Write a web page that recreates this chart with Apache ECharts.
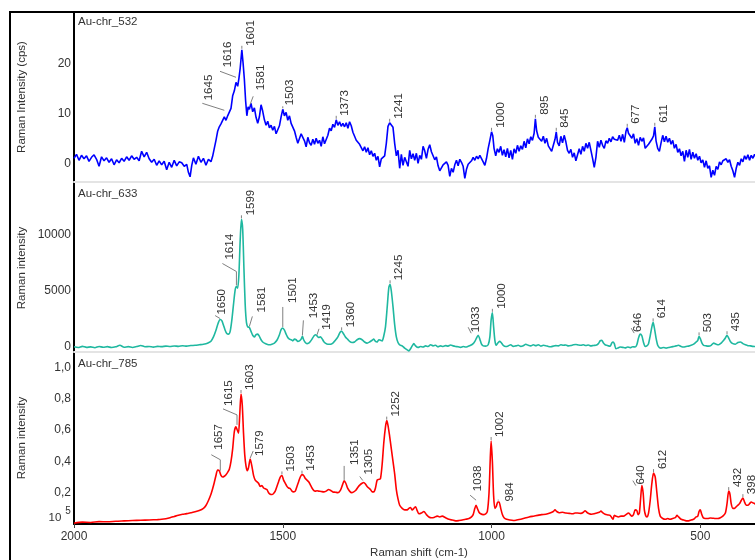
<!DOCTYPE html>
<html><head><meta charset="utf-8">
<script src="https://cdn.jsdelivr.net/npm/echarts@6/dist/echarts.min.js"></script>
<style>html,body{margin:0;padding:0;background:#fff}#c{width:755px;height:560px}</style>
</head><body><div id="c"></div>
<script>
// ---------- DATA ----------
const xTicks = [500, 1000, 1500, 2000];
const xRange = [369, 2000];
const yTicks532 = [0, 10, 20];
const yTicks633 = [0, 5000, 10000];
const yTicks785 = [0.2, 0.4, 0.6, 0.8, 1.0];
const seriesNames = ["Au-chr_532", "Au-chr_633", "Au-chr_785"];

const spec532 = [
[2000,1.0],[1994,1.8],[1988,0.6],[1982,1.6],[1976,0.9],[1970,1.5],[1964,0.4],[1958,1.2],[1952,1.7],[1946,0.8],
[1940,-0.6],[1934,1.3],[1928,0.5],[1922,1.1],[1916,0.2],[1910,0.9],[1904,-0.3],[1898,0.7],[1892,0.1],[1886,1.0],
[1880,0.4],[1874,1.3],[1868,0.6],[1862,1.5],[1856,0.8],[1850,1.2],[1844,0.5],[1838,2.4],[1832,1.3],[1826,2.2],
[1820,0.9],[1814,0.2],[1808,0.8],[1802,-0.4],[1796,0.5],[1790,-0.3],[1784,0.4],[1778,-1.3],[1772,0.2],[1766,-0.8],
[1760,0.6],[1754,-0.5],[1748,0.3],[1742,0.1],[1736,-0.6],[1730,-0.2],[1726,-1.8],[1722,-2.7],[1718,-0.4],[1714,1.1],
[1708,-0.2],[1702,1.4],[1696,0.2],[1690,1.0],[1684,-0.4],[1678,0.8],[1672,0.3],[1668,1.4],[1664,3.0],[1660,4.6],
[1656,6.4],[1652,7.3],[1648,7.9],[1644,8.6],[1640,9.3],[1636,8.6],[1632,9.5],[1628,9.2],[1624,11.0],[1620,13.5],
[1616,14.5],[1612,16.2],[1608,15.4],[1605,17.0],[1602,19.0],[1598,22.7],[1595,20.0],[1592,16.8],[1589,12.5],[1586,9.5],
[1583,11.3],[1580,10.8],[1576,12.0],[1572,10.3],[1568,11.1],[1564,9.2],[1560,8.0],[1556,9.3],[1552,11.7],[1548,10.4],
[1544,8.7],[1540,7.6],[1536,8.4],[1532,7.1],[1528,7.6],[1524,6.6],[1520,7.4],[1516,5.9],[1512,5.7],[1508,7.5],
[1504,9.3],[1500,10.8],[1496,9.5],[1492,10.2],[1488,8.6],[1484,9.5],[1480,8.0],[1476,7.7],[1472,6.5],[1468,5.2],
[1464,4.0],[1460,3.7],[1456,5.9],[1452,6.3],[1448,4.5],[1444,3.3],[1440,5.2],[1436,4.1],[1432,3.6],[1428,4.8],
[1424,3.8],[1420,5.0],[1416,4.0],[1412,4.6],[1408,3.4],[1404,5.3],[1400,3.9],[1396,3.5],[1392,5.6],[1388,7.0],
[1384,6.5],[1380,7.8],[1376,7.2],[1372,8.7],[1368,7.6],[1364,8.3],[1360,7.4],[1356,8.0],[1352,7.3],[1348,8.1],
[1344,7.0],[1340,8.3],[1336,7.5],[1332,6.2],[1328,5.8],[1324,4.6],[1320,4.9],[1316,3.8],[1312,3.4],[1308,2.5],
[1304,3.3],[1300,2.2],[1296,3.1],[1292,1.7],[1288,2.5],[1284,1.4],[1280,2.0],[1276,0.6],[1272,1.4],[1268,-0.7],
[1264,0.9],[1260,0.5],[1256,1.5],[1252,4.0],[1248,7.4],[1244,8.1],[1240,7.9],[1236,7.2],[1232,4.0],[1228,1.5],
[1224,2.6],[1220,-1.0],[1216,1.8],[1212,-0.4],[1208,1.2],[1204,0.3],[1200,-0.6],[1196,2.6],[1192,0.9],[1188,1.9],
[1184,0.6],[1180,2.0],[1176,0.0],[1172,1.6],[1168,0.8],[1164,3.4],[1160,2.5],[1156,1.0],[1152,2.8],[1148,3.7],
[1144,2.3],[1140,1.5],[1136,0.7],[1132,1.3],[1128,-0.5],[1124,-1.5],[1120,-1.2],[1116,-0.3],[1112,-0.6],[1108,0.3],
[1104,-0.4],[1100,-2.6],[1096,-1.0],[1092,-1.8],[1088,-0.3],[1084,0.6],[1080,-0.5],[1076,0.8],[1072,0.2],[1068,-0.6],
[1064,-3.0],[1060,-1.2],[1056,-0.2],[1052,0.2],[1048,0.5],[1044,1.2],[1040,0.6],[1036,1.4],[1032,0.9],[1028,1.6],
[1024,1.2],[1020,0.3],[1016,-0.4],[1012,1.0],[1008,3.0],[1004,4.6],[1000,6.3],[997,5.5],[994,3.0],[990,1.5],
[986,2.9],[982,2.2],[978,3.4],[974,1.6],[970,2.7],[966,1.3],[962,3.0],[958,1.1],[954,2.6],[950,0.8],
[946,2.9],[942,2.0],[938,3.6],[934,2.4],[930,3.5],[926,2.8],[922,4.4],[918,3.1],[914,4.9],[910,3.9],
[906,5.3],[902,4.6],[898,6.0],[895,8.9],[892,6.5],[888,5.2],[884,5.6],[880,4.4],[876,5.4],[872,4.0],
[868,5.0],[864,3.5],[860,3.9],[856,2.4],[852,3.6],[848,4.8],[845,6.3],[842,4.2],[838,3.5],[834,5.4],
[830,4.1],[826,5.6],[822,4.3],[818,2.6],[814,2.0],[810,2.8],[806,1.2],[802,2.1],[798,0.5],[794,1.7],
[790,2.9],[786,1.8],[782,3.4],[778,2.4],[774,4.0],[770,3.0],[766,4.2],[762,2.6],[758,1.0],[754,-0.8],
[750,1.2],[746,4.4],[742,3.2],[738,4.6],[734,3.6],[730,3.0],[726,4.5],[722,4.0],[718,5.0],[714,4.3],
[710,5.3],[706,4.8],[702,5.2],[698,4.6],[694,5.6],[690,4.4],[686,5.8],[682,4.2],[678,6.4],[675,7.1],
[672,6.0],[668,6.4],[664,5.0],[660,5.9],[656,4.0],[652,4.9],[648,3.6],[644,5.2],[640,4.4],[636,5.1],
[632,3.0],[628,2.6],[624,3.8],[620,4.2],[616,4.8],[612,5.5],[609,7.3],[606,4.5],[602,3.0],[598,2.4],
[594,4.1],[590,5.6],[586,4.3],[582,5.4],[578,4.2],[574,5.0],[570,3.8],[566,4.6],[562,3.0],[558,3.8],
[554,2.2],[550,2.9],[546,1.5],[542,2.4],[538,0.4],[534,2.6],[530,1.2],[526,2.8],[522,0.8],[518,2.2],
[514,1.0],[510,1.9],[506,0.6],[502,1.4],[498,0.1],[494,0.7],[490,-0.8],[486,0.5],[482,-1.0],[478,-0.5],
[474,-2.8],[470,-1.4],[466,-2.4],[462,-0.6],[458,-1.2],[454,0.3],[450,-0.3],[446,0.5],[442,0.1],[438,0.9],
[434,0.2],[430,0.7],[426,-0.6],[422,-1.5],[418,-2.8],[414,-1.0],[410,0.2],[406,-0.4],[402,0.9],[398,0.3],
[394,1.5],[390,0.8],[386,1.7],[382,0.6],[378,1.6],[374,1.0],[370,1.8],[366,1.2],[362,0.8]
];

const spec633 = [
[2000,20],[1990,-40],[1980,60],[1970,-30],[1960,10],[1950,-60],[1940,40],[1930,-20],[1920,30],[1910,-50],
[1900,20],[1890,150],[1880,-20],[1870,30],[1860,-40],[1850,40],[1840,140],[1830,20],[1820,50],[1810,-10],
[1800,60],[1790,30],[1780,80],[1770,40],[1760,90],[1750,60],[1740,110],[1730,80],[1720,130],[1710,150],
[1700,200],[1690,250],[1684,300],[1678,380],[1672,520],[1666,900],[1660,1500],[1655,2100],[1650,2450],[1646,2350],
[1642,1950],[1638,1500],[1634,1200],[1630,1150],[1626,1400],[1622,2400],[1618,3800],[1614,5100],[1611,5400],[1608,5250],
[1605,6500],[1602,9500],[1599,11400],[1596,10500],[1593,7000],[1590,3800],[1587,2200],[1584,1800],[1580,1750],[1576,1400],
[1572,1050],[1568,900],[1564,1100],[1560,1150],[1556,950],[1552,650],[1548,450],[1544,350],[1538,250],[1532,200],
[1526,250],[1520,350],[1514,600],[1508,1100],[1504,1550],[1500,1700],[1496,1500],[1492,1150],[1488,850],[1484,700],
[1480,650],[1476,550],[1472,700],[1468,650],[1464,500],[1460,550],[1456,700],[1453,950],[1450,650],[1446,400],
[1442,300],[1438,350],[1434,500],[1430,700],[1426,950],[1422,1100],[1418,1000],[1414,850],[1410,900],[1406,750],
[1402,500],[1398,350],[1392,250],[1386,250],[1380,350],[1374,600],[1368,900],[1363,1300],[1359,1400],[1355,1200],
[1350,900],[1345,700],[1340,500],[1334,400],[1328,450],[1322,650],[1316,750],[1310,650],[1304,450],[1298,350],
[1292,450],[1286,600],[1282,700],[1278,500],[1274,450],[1270,650],[1266,600],[1262,550],[1258,1000],[1254,1800],
[1250,3500],[1246,5300],[1243,5600],[1240,5000],[1236,3600],[1232,2000],[1228,900],[1224,400],[1220,200],[1214,100],
[1208,-100],[1202,-250],[1198,-350],[1194,-150],[1190,100],[1186,300],[1182,100],[1176,-50],[1170,50],[1164,0],
[1158,100],[1152,50],[1146,200],[1140,100],[1134,150],[1128,20],[1122,100],[1116,50],[1110,120],[1104,80],
[1098,180],[1092,100],[1086,50],[1080,20],[1074,-30],[1068,40],[1062,0],[1056,60],[1050,150],[1044,300],
[1040,500],[1036,800],[1032,1050],[1028,700],[1024,250],[1020,100],[1014,80],[1008,200],[1004,900],[1001,2400],
[998,3050],[995,1800],[992,600],[989,150],[985,350],[981,500],[977,400],[972,150],[966,50],[960,100],
[954,200],[948,60],[942,100],[936,150],[930,60],[924,120],[918,250],[912,150],[906,100],[900,200],
[894,120],[888,200],[882,80],[876,150],[870,120],[864,50],[858,20],[852,80],[846,120],[840,100],
[834,200],[828,150],[822,180],[816,100],[810,130],[804,200],[798,230],[792,180],[786,150],[780,200],
[774,130],[768,180],[762,100],[756,140],[750,150],[744,300],[740,550],[736,600],[732,350],[728,200],
[724,150],[720,100],[716,80],[712,350],[709,450],[706,300],[702,-150],[698,-100],[692,0],[686,-30],
[680,-80],[674,0],[668,-60],[662,20],[656,0],[652,200],[648,800],[644,1150],[640,1000],[636,400],
[632,50],[628,100],[624,300],[620,1000],[616,1800],[613,2200],[610,1700],[606,800],[602,150],[598,-50],
[594,-100],[588,-50],[582,-100],[576,-40],[570,0],[564,50],[558,100],[552,150],[546,50],[540,0],
[534,50],[528,80],[522,150],[516,250],[510,450],[506,600],[503,950],[500,750],[496,350],[492,150],
[486,100],[480,80],[474,150],[468,350],[462,250],[456,200],[450,350],[444,600],[440,800],[436,1050],
[432,800],[428,500],[422,300],[416,250],[410,400],[404,450],[398,300],[392,200],[386,120],[380,100],
[374,60],[368,40],[362,50]
];

const spec785 = [
[2000,0.005],[1980,0.012],[1960,0.010],[1940,0.015],[1920,0.014],[1900,0.018],[1880,0.020],[1860,0.022],[1840,0.024],[1820,0.026],
[1800,0.028],[1790,0.030],[1780,0.034],[1770,0.040],[1760,0.048],[1750,0.056],[1740,0.062],[1730,0.066],[1720,0.072],[1710,0.078],
[1700,0.086],[1690,0.100],[1684,0.118],[1678,0.150],[1672,0.190],[1668,0.225],[1664,0.265],[1660,0.31],[1656,0.345],[1652,0.34],
[1648,0.31],[1644,0.30],[1640,0.305],[1636,0.315],[1632,0.33],[1628,0.35],[1624,0.40],[1620,0.48],[1616,0.59],[1612,0.62],
[1609,0.60],[1606,0.58],[1603,0.70],[1600,0.83],[1597,0.76],[1594,0.58],[1591,0.44],[1588,0.37],[1585,0.34],[1582,0.36],
[1578,0.415],[1574,0.37],[1570,0.31],[1566,0.28],[1562,0.27],[1558,0.26],[1554,0.24],[1550,0.245],[1546,0.23],[1542,0.225],
[1538,0.22],[1534,0.20],[1530,0.19],[1526,0.188],[1522,0.195],[1518,0.21],[1514,0.24],[1510,0.27],[1506,0.30],[1502,0.31],
[1498,0.28],[1494,0.26],[1490,0.24],[1486,0.23],[1482,0.225],[1478,0.21],[1474,0.205],[1470,0.21],[1466,0.24],[1462,0.27],
[1458,0.30],[1454,0.315],[1450,0.31],[1446,0.29],[1442,0.28],[1438,0.27],[1434,0.25],[1430,0.23],[1426,0.215],[1422,0.21],
[1418,0.212],[1414,0.21],[1408,0.208],[1402,0.205],[1396,0.21],[1390,0.22],[1386,0.215],[1380,0.205],[1374,0.203],[1368,0.20],
[1362,0.215],[1357,0.25],[1353,0.275],[1349,0.26],[1345,0.23],[1340,0.21],[1335,0.20],[1330,0.205],[1325,0.215],[1320,0.235],
[1315,0.25],[1310,0.26],[1306,0.265],[1302,0.255],[1298,0.24],[1294,0.23],[1290,0.22],[1286,0.205],[1282,0.205],[1278,0.23],
[1274,0.28],[1270,0.285],[1266,0.29],[1262,0.38],[1258,0.52],[1254,0.62],[1251,0.66],[1248,0.63],[1244,0.56],[1240,0.48],
[1236,0.40],[1232,0.32],[1228,0.22],[1224,0.16],[1220,0.12],[1214,0.10],[1208,0.09],[1202,0.09],[1198,0.10],[1194,0.105],
[1190,0.09],[1186,0.10],[1182,0.11],[1178,0.085],[1174,0.065],[1168,0.07],[1162,0.08],[1156,0.06],[1150,0.045],[1144,0.04],
[1138,0.042],[1130,0.05],[1124,0.045],[1118,0.05],[1110,0.04],[1102,0.03],[1094,0.025],[1086,0.02],[1078,0.022],[1070,0.025],
[1062,0.03],[1054,0.035],[1048,0.045],[1044,0.06],[1040,0.10],[1037,0.12],[1034,0.10],[1030,0.075],[1026,0.065],[1020,0.06],
[1014,0.065],[1010,0.08],[1006,0.20],[1003,0.42],[1001,0.53],[998,0.40],[995,0.18],[992,0.10],[989,0.11],[985,0.14],
[982,0.14],[978,0.10],[974,0.06],[970,0.04],[964,0.03],[956,0.025],[948,0.022],[940,0.025],[930,0.03],[920,0.038],
[910,0.045],[900,0.05],[890,0.055],[880,0.06],[870,0.062],[860,0.07],[852,0.08],[848,0.09],[844,0.08],[838,0.072],
[830,0.075],[822,0.07],[814,0.068],[806,0.065],[800,0.07],[794,0.07],[786,0.068],[780,0.075],[776,0.085],[772,0.075],
[766,0.065],[760,0.062],[754,0.065],[748,0.07],[742,0.075],[738,0.082],[734,0.072],[728,0.062],[722,0.058],[716,0.055],
[712,0.04],[709,0.03],[706,0.055],[702,0.05],[696,0.045],[690,0.05],[684,0.05],[678,0.06],[672,0.07],[668,0.06],
[664,0.05],[660,0.06],[656,0.09],[652,0.085],[649,0.06],[646,0.07],[643,0.16],[640,0.245],[637,0.20],[634,0.09],
[631,0.055],[628,0.045],[624,0.07],[620,0.15],[616,0.26],[612,0.325],[608,0.30],[604,0.20],[600,0.10],[596,0.05],
[590,0.035],[584,0.03],[578,0.035],[572,0.03],[566,0.035],[560,0.04],[556,0.055],[552,0.045],[546,0.03],[540,0.025],
[534,0.02],[528,0.02],[522,0.025],[516,0.03],[510,0.045],[506,0.05],[503,0.08],[500,0.09],[497,0.065],[493,0.04],
[488,0.035],[482,0.035],[476,0.038],[470,0.037],[464,0.035],[458,0.035],[452,0.04],[446,0.05],[440,0.07],[436,0.13],
[432,0.21],[429,0.19],[426,0.13],[422,0.10],[418,0.10],[414,0.11],[410,0.12],[406,0.13],[402,0.15],[398,0.165],
[394,0.14],[390,0.12],[386,0.12],[382,0.13],[378,0.14],[374,0.135],[370,0.13],[366,0.12]
];

// peak annotations: [label, wavenumber, intensity]
const peaks532 = [["1645",1640,9.6],["1616",1612,16.2],["1601",1598,22.7],["1581",1578,11.0],["1503",1500,10.8],
  ["1373",1372,8.7],["1241",1244,8.1],["1000",1000,6.3],["895",895,8.9],["845",845,6.3],["677",675,7.1],["611",609,7.3]];
const peaks633 = [["1650",1650,2450],["1614",1611,5400],["1599",1599,11400],["1581",1580,1750],["1501",1500,1700],
  ["1453",1453,950],["1419",1418,1000],["1360",1359,1400],["1245",1243,5600],["1033",1032,1050],["1000",998,3050],
  ["646",644,1150],["614",613,2200],["503",503,950],["435",436,1050]];
const peaks785 = [["1657",1652,0.34],["1615",1612,0.62],["1603",1600,0.83],["1579",1578,0.415],["1503",1502,0.31],
  ["1453",1454,0.315],["1351",1353,0.275],["1305",1306,0.265],["1252",1251,0.66],["1038",1037,0.12],["1002",1001,0.53],
  ["984",984,0.143],["640",640,0.245],["612",612,0.325],["432",432,0.21],["398",398,0.165]];

// ---------- LAYOUT / STYLE ----------
const FONT = '"Liberation Sans", Arial, sans-serif';
const TXT = '#333333';
const colors = ['#0000ff', '#1fb8a0', '#ff0000'];
const L = 74;
const grids = [{top: 12, h: 170}, {top: 182, h: 170}, {top: 352, h: 172}];
const yRanges = [[-3.74, 30.26], [-446, 14732], [0, 1.098]];
const yTicks = [yTicks532, yTicks633, yTicks785];
const specs = [spec532, spec633, spec785];
const peaks = [peaks532, peaks633, peaks785];
const defLeader = {pts: [[0,-1],[0,-4]], tx: 9, ty: -4};
const leaderOverrides = [
  {"1645": {pts: [[0,-5],[-22,-12]], tx: -15, ty: -15},
   "1616": {pts: [[0,-5],[-16,-11]], tx: -8, ty: -15},
   "1581": {pts: [[0,-4],[3,-12]], tx: 11, ty: -18},
   "1503": {pts: [[0,-1],[0,-3]], tx: 7, ty: -4}},
  {"1650": {pts: [[0,-1],[-5,-4]], tx: 2, ty: -5},
   "1614": {pts: [[0,-1],[0,-15],[-14,-23]], tx: -7, ty: -27},
   "1581": {pts: [[0,-1],[3,-11]], tx: 12, ty: -15},
   "1501": {pts: [[0,-1],[0,-21]], tx: 10, ty: -25},
   "1453": {pts: [[0,-1],[1,-16]], tx: 11, ty: -18},
   "1419": {pts: [[0,-1],[2,-7]], tx: 10, ty: -6},
   "1033": {pts: [[-7,-2],[-10,-8]], tx: -2, ty: -3},
   "646": {pts: [[-6,-1],[-9,-6]], tx: -2, ty: -2}},
  {"1657": {pts: [[1,0],[1,-11],[-8,-16]], tx: 0, ty: -21},
   "1615": {pts: [[1,-2],[1,-12],[-13,-18]], tx: -7, ty: -21},
   "1579": {pts: [[0,-1],[3,-8]], tx: 10, ty: -3},
   "1351": {pts: [[0,-1],[0,-15]], tx: 11, ty: -16},
   "1305": {pts: [[-1,-2],[-4,-6]], tx: 5, ty: -8},
   "1038": {pts: [[0,-5],[-6,-10]], tx: 2, ty: -14},
   "984": {pts: [[0,-1],[0,-2]], tx: 12, ty: 0},
   "640": {pts: [[-6,0],[-9,-5]], tx: -1, ty: -1}}
];

const chart = echarts.init(document.getElementById('c'), null, {renderer: 'canvas'});

const option = {
  animation: false,
  backgroundColor: '#fff',
  grid: grids.map(g => ({left: L, top: g.top, right: 0, height: g.h, containLabel: false, outerBoundsMode: 'none'})),
  xAxis: grids.map((g, i) => ({
    type: 'value', gridIndex: i, inverse: true, min: xRange[0], max: xRange[1],
    axisLine: {show: true, onZero: false, lineStyle: i === 2 ? {color: '#000', width: 2} : {color: '#e4e4e4', width: 2}},
    axisTick: {show: i === 2, customValues: xTicks, length: 4, lineStyle: {color: '#444'}},
    axisLabel: {show: i === 2, customValues: xTicks, color: TXT, fontFamily: FONT, fontSize: 12, margin: 7,
      formatter: v => String(v)},
    splitLine: {show: false}
  })),
  yAxis: grids.map((g, i) => ({
    type: 'value', gridIndex: i, min: yRanges[i][0], max: yRanges[i][1],
    axisLine: {show: true, onZero: false, lineStyle: {color: '#000', width: 2}},
    axisTick: {show: false, customValues: yTicks[i]},
    axisLabel: {show: true, customValues: yTicks[i], color: TXT, fontFamily: FONT, fontSize: 12, margin: 3,
      formatter: i === 2 ? (v => v.toFixed(1).replace('.', ',')) : (v => String(v))},
    splitLine: {show: false}
  })),
  series: specs.map((d, i) => ({
    name: seriesNames[i], type: 'line', xAxisIndex: i, yAxisIndex: i, data: d,
    showSymbol: false, symbol: 'none', smooth: i === 0 ? false : 0.25,
    lineStyle: {color: colors[i], width: 1.6}, z: 3
  }))
};
chart.setOption(option);

// ---------- annotations & text ----------
const gfx = [];
gfx.push({type: 'polyline', shape: {points: [[10, 560], [10, 12], [760, 12]]}, style: {stroke: '#000', lineWidth: 2, fill: null}, z: 10});
const titleY = [22, 194, 364];
const yNames = ['Raman Intensity (cps)', 'Raman intensity', 'Raman intensity'];
const yNameY = [97, 268, 438];
for (let i = 0; i < 3; i++) {
  gfx.push({type: 'text', x: 78, y: titleY[i], z: 10, style: {text: seriesNames[i], fill: TXT, font: '11.5px ' + FONT, textAlign: 'left', textVerticalAlign: 'middle'}});
  gfx.push({type: 'text', x: 22, y: yNameY[i], rotation: Math.PI / 2, z: 10, style: {text: yNames[i], fill: TXT, font: '11.5px ' + FONT, textAlign: 'center', textVerticalAlign: 'middle'}});
  peaks[i].forEach(p => {
    const pt = chart.convertToPixel({gridIndex: i}, [p[1], p[2]]);
    const st = leaderOverrides[i][p[0]] || defLeader;
    gfx.push({type: 'polyline', z: 9, shape: {points: st.pts.map(o => [pt[0] + o[0], pt[1] + o[1]])}, style: {stroke: '#808080', lineWidth: 1, fill: null}});
    gfx.push({type: 'text', z: 10, x: pt[0] + st.tx, y: pt[1] + st.ty, rotation: Math.PI / 2,
      style: {text: p[0], fill: TXT, font: '11.5px ' + FONT, textAlign: 'left', textVerticalAlign: 'middle'}});
  });
}
gfx.push({type: 'text', x: 419, y: 553, z: 10, style: {text: 'Raman shift (cm-1)', fill: TXT, font: '11.5px ' + FONT, textAlign: 'center', textVerticalAlign: 'middle'}});
gfx.push({type: 'text', x: 55, y: 518, z: 10, style: {text: '10', fill: TXT, font: '11.5px ' + FONT, textAlign: 'center', textVerticalAlign: 'middle'}});
gfx.push({type: 'text', x: 68, y: 511, z: 10, style: {text: '5', fill: TXT, font: '10px ' + FONT, textAlign: 'center', textVerticalAlign: 'middle'}});
chart.setOption({graphic: {elements: gfx}});
</script>
</body></html>
